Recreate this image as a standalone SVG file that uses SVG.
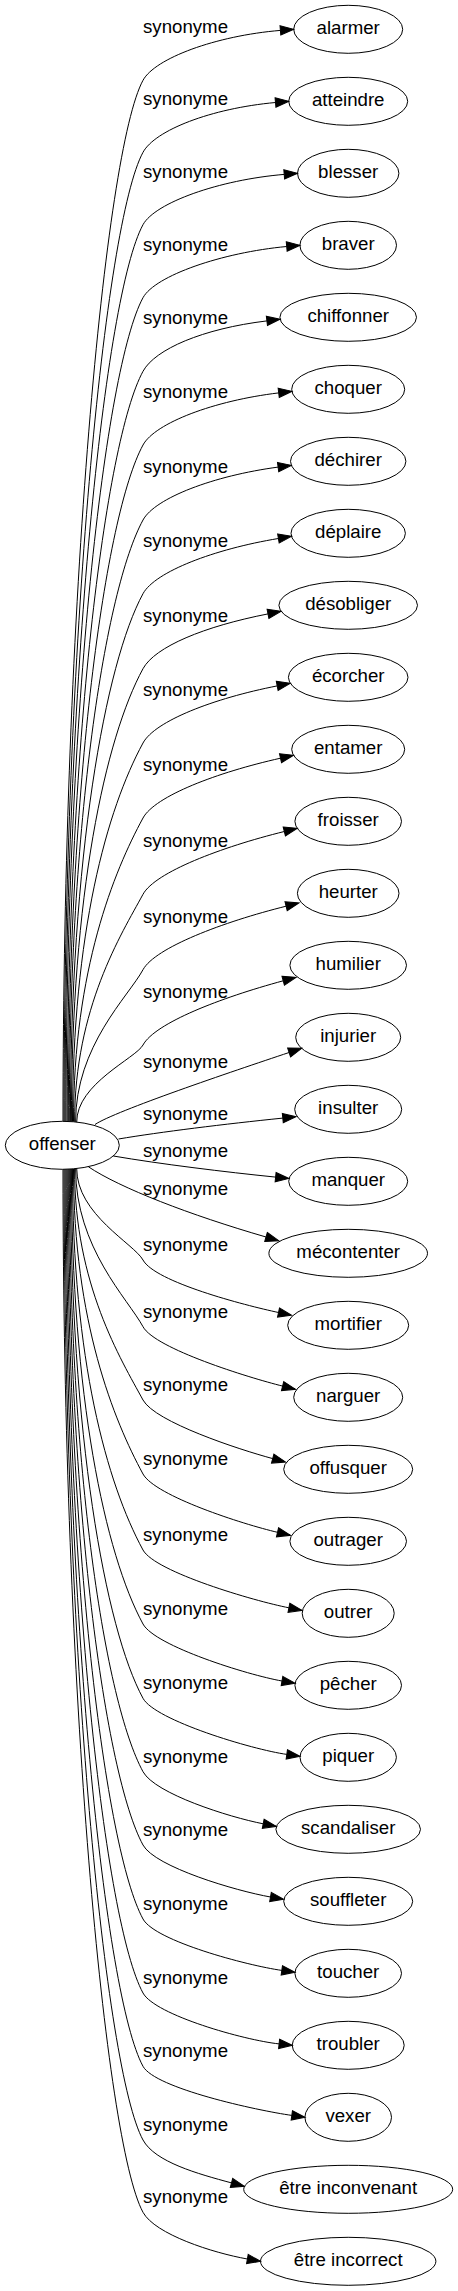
<svg xmlns="http://www.w3.org/2000/svg" width="458" height="2291" viewBox="0 0 458 2291">
<style>
.n ellipse{fill:none;stroke:#000;stroke-width:1}
text{font-family:"Liberation Sans",Arial,sans-serif;font-size:18.67px;fill:#000;text-anchor:middle}
.e path{fill:none;stroke:#000;stroke-width:1;marker-end:url(#arr)}
</style>
<defs>
<marker id="arr" markerUnits="userSpaceOnUse" viewBox="0 0 13.33 9.33" markerWidth="13.33" markerHeight="9.33" refX="0" refY="4.67" orient="auto" overflow="visible"><path d="M0,0 L13.33,4.67 L0,9.33 z" fill="#000" stroke="#000" stroke-width="1"/></marker>
</defs>
<rect width="458" height="2291" fill="#fff"/>
<g id="connectors" class="e">
<path d="M63,1121.3 C63,600.8 105,150.3 143,80.3 C155,58.3 215.6,35.8 280.4,30.4"/>
<path d="M64,1121.4 C64,636.9 105,222.3 143,152.3 C155,130.3 210.8,108.4 275.5,102.5"/>
<path d="M65,1121.4 C65,673 105,294.7 143,224.7 C155,202.7 219.4,179.8 284.2,174.4"/>
<path d="M66,1121.4 C66,709.6 105,367.7 143,297.7 C155,275.7 222,252.5 286.7,246.5"/>
<path d="M67.2,1121.5 C67.2,746.4 105,441.3 143,371.3 C155,349.3 202.4,328.7 266.9,320.9"/>
<path d="M68.3,1121.5 C68.3,783.3 105,515 143,445 C155,423 214.2,400.6 278.7,392.9"/>
<path d="M69.3,1121.5 C69.3,820.8 105,590 143,520 C155,498 213.7,475.7 278.1,467.1"/>
<path d="M70.4,1121.5 C70.4,857.6 105,663.7 143,593.7 C155,571.7 214.3,549.1 278.4,538.5"/>
<path d="M71.4,1121.6 C71.4,895.2 105,738.7 143,668.7 C155,646.7 204.2,626.4 268,613.9"/>
<path d="M72.5,1121.6 C72.5,932.3 107,809.3 143,743 C155,721 213.4,698.4 277.2,685.9"/>
<path d="M73.5,1121.7 C73.5,969.9 114.1,871.2 143,818 C155,796 217.1,772.4 280.5,758.2"/>
<path d="M74.6,1121.8 C74.6,1008 121.4,934.1 143,894.3 C155,872.3 221.2,847.1 284.3,831.5"/>
<path d="M75.6,1121.9 C75.6,1045.8 128.6,996.3 143,969.7 C155,947.7 223,921.9 286.1,906.2"/>
<path d="M76.7,1122.1 C76.7,1083.6 135.8,1058.3 143,1045 C155,1023 220.5,997.8 283.2,980.8"/>
<path d="M95,1124.5 C115,1111 232.2,1071.5 289.1,1052.5"/>
<path d="M118.5,1139 C160,1132 225,1124 282.8,1118.1"/>
<path d="M113.3,1156 C160,1164 225,1172 275.6,1177.1"/>
<path d="M88.3,1166.7 C120,1188 190,1215 266,1237"/>
<path d="M76.7,1168.5 C76.7,1214.3 134.3,1244 143,1260 C155,1282 244.3,1305.2 278.5,1312.5"/>
<path d="M75.6,1168.6 C75.6,1247.7 128,1299 143,1326.7 C155,1348.7 248.6,1377.6 282.6,1386.1"/>
<path d="M74.55,1168.7 C74.55,1284.4 121,1359.5 143,1400 C155,1422 238.9,1449.5 272.7,1458.6"/>
<path d="M73.5,1168.8 C73.5,1321.4 114,1420.6 143,1474 C155,1496 243.4,1524.4 277.5,1532.3"/>
<path d="M72.45,1168.9 C72.45,1359.5 106.8,1483.3 143,1550 C155,1572 254.6,1601.1 288.9,1607.8"/>
<path d="M71.4,1169 C71.4,1396.5 105,1554 143,1624 C155,1646 247.5,1674.9 282,1681"/>
<path d="M70.35,1169 C70.35,1433.7 105,1628.3 143,1698.3 C155,1720.3 252.1,1749.5 286.8,1754.4"/>
<path d="M69.3,1169.1 C69.3,1470.4 105,1701.7 143,1771.7 C155,1793.7 228.9,1817.1 263.2,1823.8"/>
<path d="M68.25,1169.1 C68.25,1507 105,1775 143,1845 C155,1867 236,1890.9 270.5,1897"/>
<path d="M67.2,1169.2 C67.2,1544.1 105,1849 143,1919 C155,1941 247.1,1965.5 281.8,1970.4"/>
<path d="M66.15,1169.2 C66.15,1581.1 105,1923 143,1993 C155,2015 244.3,2040.2 279.1,2043.9"/>
<path d="M65.1,1169.2 C65.1,1617.8 105,1996.3 143,2066.3 C155,2088.3 257.1,2110.5 291.8,2115.4"/>
<path d="M64.05,1169.3 C64.05,1654.7 105,2070 143,2140 C155,2162 197.7,2173.8 231.5,2182.9"/>
<path d="M63,1169.3 C63,1690.8 105,2142.3 143,2212.3 C155,2234.3 212.9,2252.9 247.4,2259"/>
<g id="edge-labels">
<text x="185.5" y="33.3">synonyme</text>
<text x="185.5" y="105.3">synonyme</text>
<text x="185.5" y="177.7">synonyme</text>
<text x="185.5" y="250.7">synonyme</text>
<text x="185.5" y="324.3">synonyme</text>
<text x="185.5" y="398">synonyme</text>
<text x="185.5" y="473">synonyme</text>
<text x="185.5" y="546.7">synonyme</text>
<text x="185.5" y="621.7">synonyme</text>
<text x="185.5" y="696">synonyme</text>
<text x="185.5" y="771">synonyme</text>
<text x="185.5" y="847.3">synonyme</text>
<text x="185.5" y="922.7">synonyme</text>
<text x="185.5" y="998">synonyme</text>
<text x="185.5" y="1067.7">synonyme</text>
<text x="185.5" y="1120">synonyme</text>
<text x="185.5" y="1157.3">synonyme</text>
<text x="185.5" y="1195">synonyme</text>
<text x="185.5" y="1251">synonyme</text>
<text x="185.5" y="1317.7">synonyme</text>
<text x="185.5" y="1391">synonyme</text>
<text x="185.5" y="1465">synonyme</text>
<text x="185.5" y="1541">synonyme</text>
<text x="185.5" y="1615">synonyme</text>
<text x="185.5" y="1689.3">synonyme</text>
<text x="185.5" y="1762.7">synonyme</text>
<text x="185.5" y="1836">synonyme</text>
<text x="185.5" y="1910">synonyme</text>
<text x="185.5" y="1984">synonyme</text>
<text x="185.5" y="2057.3">synonyme</text>
<text x="185.5" y="2131">synonyme</text>
<text x="185.5" y="2203.3">synonyme</text>
</g>
</g>
<g id="node-offenser" class="n"><ellipse cx="62.3" cy="1145.3" rx="57" ry="24"/><text x="62.3" y="1150.3">offenser</text></g>
<g id="node-alarmer" class="n"><ellipse cx="348.2" cy="29.3" rx="54.5" ry="24"/><text x="348.2" y="34.3">alarmer</text></g>
<g id="node-atteindre" class="n"><ellipse cx="348.2" cy="101.3" rx="59.5" ry="24"/><text x="348.2" y="106.3">atteindre</text></g>
<g id="node-blesser" class="n"><ellipse cx="348.2" cy="173.3" rx="50.7" ry="24"/><text x="348.2" y="178.3">blesser</text></g>
<g id="node-braver" class="n"><ellipse cx="348.2" cy="245.3" rx="48.3" ry="24"/><text x="348.2" y="250.3">braver</text></g>
<g id="node-chiffonner" class="n"><ellipse cx="348.2" cy="317.3" rx="68.3" ry="24"/><text x="348.2" y="322.3">chiffonner</text></g>
<g id="node-choquer" class="n"><ellipse cx="348.2" cy="389.3" rx="56.5" ry="24"/><text x="348.2" y="394.3">choquer</text></g>
<g id="node-dechirer" class="n"><ellipse cx="348.2" cy="461.3" rx="57.7" ry="24"/><text x="348.2" y="466.3">déchirer</text></g>
<g id="node-deplaire" class="n"><ellipse cx="348.2" cy="533.3" rx="57.2" ry="24"/><text x="348.2" y="538.3">déplaire</text></g>
<g id="node-desobliger" class="n"><ellipse cx="348.2" cy="605.3" rx="69.3" ry="24"/><text x="348.2" y="610.3">désobliger</text></g>
<g id="node-ecorcher" class="n"><ellipse cx="348.2" cy="677.3" rx="59.8" ry="24"/><text x="348.2" y="682.3">écorcher</text></g>
<g id="node-entamer" class="n"><ellipse cx="348.2" cy="749.3" rx="56.5" ry="24"/><text x="348.2" y="754.3">entamer</text></g>
<g id="node-froisser" class="n"><ellipse cx="348.2" cy="821.3" rx="53.3" ry="24"/><text x="348.2" y="826.3">froisser</text></g>
<g id="node-heurter" class="n"><ellipse cx="348.2" cy="893.3" rx="50.8" ry="24"/><text x="348.2" y="898.3">heurter</text></g>
<g id="node-humilier" class="n"><ellipse cx="348.2" cy="965.3" rx="58.3" ry="24"/><text x="348.2" y="970.3">humilier</text></g>
<g id="node-injurier" class="n"><ellipse cx="348.2" cy="1037.3" rx="52.5" ry="24"/><text x="348.2" y="1042.3">injurier</text></g>
<g id="node-insulter" class="n"><ellipse cx="348.2" cy="1109.3" rx="53.5" ry="24"/><text x="348.2" y="1114.3">insulter</text></g>
<g id="node-manquer" class="n"><ellipse cx="348.2" cy="1181.3" rx="59.5" ry="24"/><text x="348.2" y="1186.3">manquer</text></g>
<g id="node-mecontenter" class="n"><ellipse cx="348.2" cy="1253.3" rx="79.3" ry="24"/><text x="348.2" y="1258.3">mécontenter</text></g>
<g id="node-mortifier" class="n"><ellipse cx="348.2" cy="1325.3" rx="60.5" ry="24"/><text x="348.2" y="1330.3">mortifier</text></g>
<g id="node-narguer" class="n"><ellipse cx="348.2" cy="1397.3" rx="54.5" ry="24"/><text x="348.2" y="1402.3">narguer</text></g>
<g id="node-offusquer" class="n"><ellipse cx="348.2" cy="1469.3" rx="64.5" ry="24"/><text x="348.2" y="1474.3">offusquer</text></g>
<g id="node-outrager" class="n"><ellipse cx="348.2" cy="1541.3" rx="58.3" ry="24"/><text x="348.2" y="1546.3">outrager</text></g>
<g id="node-outrer" class="n"><ellipse cx="348.2" cy="1613.3" rx="46" ry="24"/><text x="348.2" y="1618.3">outrer</text></g>
<g id="node-pecher" class="n"><ellipse cx="348.2" cy="1685.3" rx="53.3" ry="24"/><text x="348.2" y="1690.3">pêcher</text></g>
<g id="node-piquer" class="n"><ellipse cx="348.2" cy="1757.3" rx="48.2" ry="24"/><text x="348.2" y="1762.3">piquer</text></g>
<g id="node-scandaliser" class="n"><ellipse cx="348.2" cy="1829.3" rx="72.3" ry="24"/><text x="348.2" y="1834.3">scandaliser</text></g>
<g id="node-souffleter" class="n"><ellipse cx="348.2" cy="1901.3" rx="64.5" ry="24"/><text x="348.2" y="1906.3">souffleter</text></g>
<g id="node-toucher" class="n"><ellipse cx="348.2" cy="1973.3" rx="53.3" ry="24"/><text x="348.2" y="1978.3">toucher</text></g>
<g id="node-troubler" class="n"><ellipse cx="348.2" cy="2045.3" rx="56" ry="24"/><text x="348.2" y="2050.3">troubler</text></g>
<g id="node-vexer" class="n"><ellipse cx="348.2" cy="2117.3" rx="43.3" ry="24"/><text x="348.2" y="2122.3">vexer</text></g>
<g id="node-etre-inconvenant" class="n"><ellipse cx="348.2" cy="2189.3" rx="104.5" ry="24"/><text x="348.2" y="2194.3">être inconvenant</text></g>
<g id="node-etre-incorrect" class="n"><ellipse cx="348.2" cy="2261.3" rx="87.7" ry="24"/><text x="348.2" y="2266.3">être incorrect</text></g>
</svg>
